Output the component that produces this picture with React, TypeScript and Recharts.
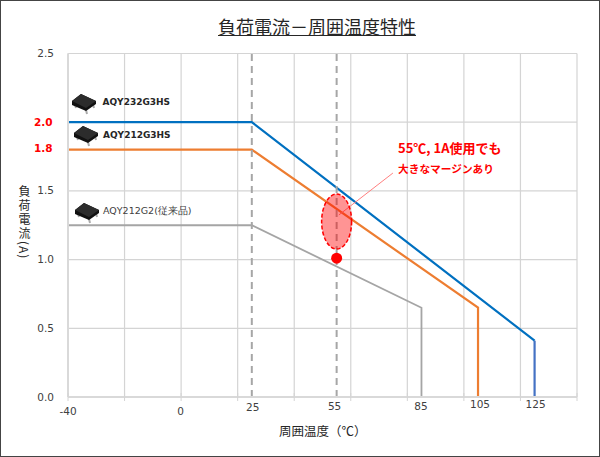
import { LineChart, Line, XAxis, YAxis, CartesianGrid, ReferenceLine, ReferenceDot } from 'recharts'

const LATIN = '"DejaVu Sans", sans-serif'
const CJK = '"Noto Sans CJK JP", sans-serif'

const gridX = [-40, -20, 0, 20, 40, 60, 80, 100, 120, 140]
const gridY = [0, 0.5, 1, 1.5, 2, 2.5]
const labelX = [-40, 0, 25, 55, 85, 105, 125]
const ticksY = [0, 0.5, 1, 1.5, 1.8, 2, 2.5]
const redTicksY = [1.8, 2]
const guideX = [25, 55]

const blueX = [-40, 25, 125]
const blueY = [2, 2, 0.41]
const blueDropX = [125, 125]
const blueDropY = [0.41, 0]
const orangeX = [-40, 25, 105, 105]
const orangeY = [1.8, 1.8, 0.65, 0]
const grayX = [-40, 25, 85, 85]
const grayY = [1.25, 1.25, 0.65, 0]

const pairs = (xs: number[], ys: number[]) => xs.map((x, i) => ({ x, y: ys[i] }))

// label offsets in the source image are not consistent
const LABEL_NUDGE: Record<number, [number, number]> = {
  [-40]: [0, 5],
  0: [-0.5, 5],
  25: [1, 1],
  55: [-2, 0],
  85: [-0.5, 0],
  105: [2, -2],
  125: [1, -2],
}

function XTick({ x, y, payload }: any) {
  const v = payload.value as number
  const nudge = LABEL_NUDGE[v]
  return (
    <g>
      {gridX.includes(v) && <line x1={x} x2={x} y1={y - 4} y2={y + 4} stroke="#d4d4d4" />}
      {labelX.includes(v) && (
        <text x={x + nudge[0]} y={y + 10 + nudge[1]} textAnchor="middle" dominantBaseline="middle" fontFamily={LATIN} fontSize={10.5} fill="#404040">
          {v}
        </text>
      )}
    </g>
  )
}

function YTick({ y, payload }: any) {
  const v = payload.value as number
  const red = redTicksY.includes(v)
  return (
    <text
      x={red ? 52.5 : 54}
      y={v === 1.8 ? y - 1 : y + 0.5}
      textAnchor="end"
      dominantBaseline="middle"
      fontFamily={LATIN}
      fontSize={10.5}
      fontWeight={red ? 700 : 400}
      fill={red ? '#ff0000' : '#404040'}
    >
      {v.toFixed(1)}
    </text>
  )
}

function Chip({ left, top }: { left: number; top: number }) {
  return (
    <svg width={27} height={23} style={{ position: 'absolute', left, top }}>
      <path d="M4 12 L5 15 M15 17 L16 21 M22 11 L23 15" stroke="#aaa" strokeWidth={2} />
      <path d="M1 8 L10 1 L25 8 L25 11 L15 18 L1 12 Z" fill="#111" />
      <path d="M1 8 L10 1 L25 8 L15 15 Z" fill="#2c2c2c" />
    </svg>
  )
}

function Note(props: { left: number; top: number; size: number; color?: string; bold?: boolean; font?: string; children: string }) {
  return (
    <div
      style={{
        position: 'absolute',
        left: props.left,
        top: props.top,
        fontSize: props.size,
        lineHeight: '16px',
        whiteSpace: 'nowrap',
        color: props.color ?? '#262626',
        fontWeight: props.bold ? 700 : 400,
        fontFamily: props.font ?? CJK,
      }}
    >
      {props.children}
    </div>
  )
}

export default function App() {
  return (
    <div style={{ position: 'absolute', left: 0, top: 0, width: 600, height: 457, background: '#fff' }}>
      <LineChart width={600} height={457} margin={{ top: 53.5, right: 23, bottom: 0, left: 0 }}>
        <CartesianGrid stroke="#d4d4d4" strokeWidth={1.2} horizontalValues={gridY} verticalValues={gridX} />
        <XAxis
          dataKey="x"
          type="number"
          domain={[-40, 140]}
          ticks={[...new Set([...gridX, ...labelX])].sort((a, b) => a - b)}
          interval={0}
          height={60}
          tick={<XTick />}
          tickLine={false}
          tickSize={0}
          tickMargin={0}
          axisLine={{ stroke: '#d9d9d9', strokeWidth: 2 }}
          allowDataOverflow
        />
        <YAxis
          dataKey="y"
          type="number"
          domain={[0, 2.5]}
          ticks={ticksY}
          interval={0}
          width={68}
          tick={<YTick />}
          tickLine={false}
          axisLine={{ stroke: '#d9d9d9', strokeWidth: 2 }}
        />
        <Line data={pairs(grayX, grayY)} dataKey="y" stroke="#a5a5a5" strokeWidth={1.8} dot={false} isAnimationActive={false} />
        <Line data={pairs(orangeX, orangeY)} dataKey="y" stroke="#ed7d31" strokeWidth={2.2} dot={false} isAnimationActive={false} />
        <Line data={pairs(blueX, blueY)} dataKey="y" stroke="#0070c0" strokeWidth={2.2} dot={false} isAnimationActive={false} />
        <Line data={pairs(blueDropX, blueDropY)} dataKey="y" stroke="#4472c4" strokeWidth={2.2} dot={false} isAnimationActive={false} />
        {guideX.map(x => (
          <ReferenceLine key={x} x={x} stroke="#a6a6a6" strokeWidth={2} strokeDasharray="7 5" />
        ))}
        <ReferenceDot
          x={55}
          y={1.277}
          shape={(p: any) => (
            <ellipse cx={p.cx} cy={p.cy} rx={15} ry={27.5} fill="#ff0000" fillOpacity={0.42} stroke="#ff0000" strokeWidth={1.5} strokeDasharray="4 2" />
          )}
        />
        <ReferenceDot x={55} y={1.01} r={5.5} fill="#ff0000" stroke="none" />
        <ReferenceLine
          segment={[
            { x: 74.9, y: 1.63 },
            { x: 55.8, y: 1.325 },
          ]}
          stroke="#ff7f7f"
          strokeWidth={1}
        />
      </LineChart>

      <div style={{ position: 'absolute', inset: 0, border: '1px solid #444', boxSizing: 'border-box', pointerEvents: 'none' }} />

      <div
        style={{
          position: 'absolute',
          left: 218,
          top: 13,
          fontFamily: CJK,
          fontSize: 18,
          lineHeight: '26px',
          color: '#262626',
          textDecoration: 'underline',
          whiteSpace: 'nowrap',
        }}
      >
        負荷電流－周囲温度特性
      </div>

      <Chip left={71} top={93} />
      <Chip left={73} top={125} />
      <Chip left={74} top={202} />
      <Note left={102.5} top={94} size={9} bold font={LATIN}>AQY232G3HS</Note>
      <Note left={103} top={127} size={9} bold font={LATIN}>AQY212G3HS</Note>
      <Note left={103} top={203} size={9.5} color="#404040" font={LATIN}>AQY212G2(従来品)</Note>
      <Note left={398} top={140} size={13} color="#ff0000" bold>55℃, 1A使用でも</Note>
      <Note left={398} top={161} size={10.7} color="#ff0000" bold>大きなマージンあり</Note>
      <Note left={279} top={423} size={12.5} font={CJK}>周囲温度（℃）</Note>

      <div
        style={{
          position: 'absolute',
          left: 16,
          top: 185,
          writingMode: 'vertical-rl',
          fontFamily: CJK,
          fontSize: 12,
          letterSpacing: 2,
          lineHeight: '16px',
          color: '#262626',
          whiteSpace: 'nowrap',
        }}
      >
        負荷電流<span style={{ letterSpacing: 1 }}>(A)</span>
      </div>
    </div>
  )
}
